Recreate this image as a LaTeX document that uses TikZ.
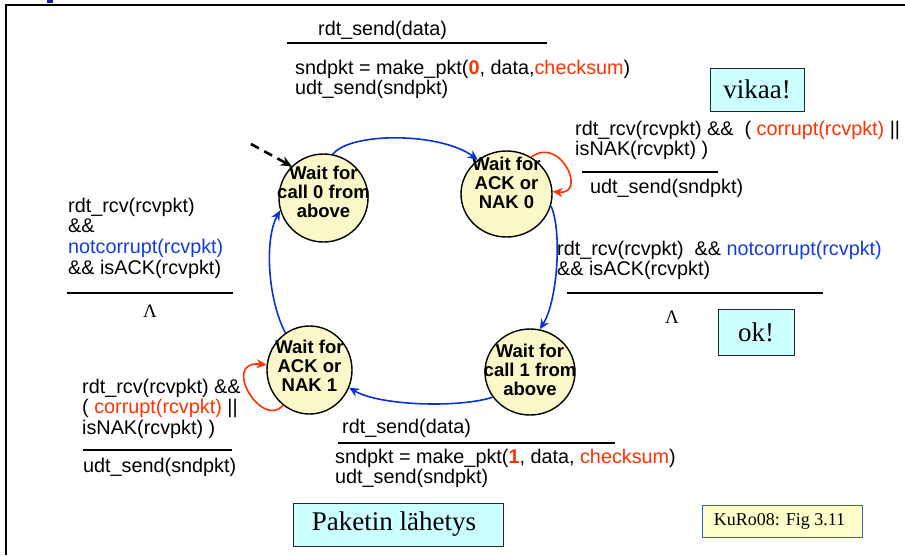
\documentclass[tikz,border=0pt]{standalone}
\usepackage{fontspec}
\setmainfont{Liberation Sans}
\newfontfamily\tms{Liberation Serif}
\usetikzlibrary{arrows.meta,shapes.geometric}

\definecolor{pred}{RGB}{255,51,0}
\definecolor{pblue}{RGB}{10,50,210}
\definecolor{tblue}{RGB}{20,60,220}
\definecolor{stfill}{RGB}{250,247,200}
\definecolor{cyanbox}{RGB}{204,255,255}
\definecolor{ylwbox}{RGB}{255,255,204}
\definecolor{navy}{RGB}{30,30,140}

\newcommand\lns[1]{\begin{tabular}[t]{@{}l@{}}#1\end{tabular}}
\newcommand\clns[1]{\begin{tabular}[t]{@{}c@{}}#1\end{tabular}}

\tikzset{
  lbl/.style={inner sep=0pt, anchor=base west, font=\fontsize{19.8}{20.7}\selectfont},
  rulebar/.style={line width=2.8pt},
  lam/.style={inner sep=0pt, anchor=base, font=\tms\fontsize{19}{20}\selectfont},
  state/.style={ellipse, draw, line width=1.4pt, fill=stfill, inner sep=0pt},
  stxt/.style={inner sep=0pt, anchor=base, font=\bfseries\fontsize{18.5}{19}\selectfont},
  trans/.style={draw=pblue, line width=1.6pt, -{Stealth[length=10pt,width=9pt]}, fill=none},
  selfloop/.style={draw=pred, line width=1.6pt, -{Stealth[length=10pt,width=9pt]}, fill=none},
  initarr/.style={line width=2.6pt, dash pattern=on 9pt off 6pt, -{Stealth[length=11pt,width=10pt]}},
  notebox/.style={draw=black!85, line width=1pt, fill=cyanbox, inner sep=0pt, font=\tms\fontsize{27}{30}\selectfont},
  refbox/.style={draw=pblue!80, line width=1pt, fill=ylwbox, inner sep=0pt, font=\tms\fontsize{18}{20}\selectfont}
}

\begin{document}
\begin{tikzpicture}[x=1pt,y=-1pt]
\useasboundingbox (0,0) rectangle (905,555);
\fill[white] (0,0) rectangle (905,555);
% frame
\fill[navy] (47,0) rectangle (53,3);
\draw[line width=1.3pt] (905,5) -- (6,5) -- (6,555);

% states
\node[state, minimum width=89pt, minimum height=88pt] (s0) at (323.5,198) {};
\node[state, minimum width=91pt, minimum height=86pt] (s1) at (506.5,194) {};
\node[state, minimum width=85pt, minimum height=88pt] (s2) at (309.5,370) {};
\node[state, minimum width=90pt, minimum height=86pt] (s3) at (530,372) {};
\node[stxt] (s0t) at (323.5,179) {\clns{Wait for\\call 0 from\\above}};
\node[stxt] (s1t) at (506.5,170) {\clns{Wait for\\ACK or\\NAK 0}};
\node[stxt] (s2t) at (309.5,353) {\clns{Wait for\\ACK or\\NAK 1}};
\node[stxt] (s3t) at (530,357) {\clns{Wait for\\call 1 from\\above}};

% connectors
\coordinate (init) at (251,144);
\draw[initarr] (init) -- (s0.135);
\draw[trans] (s0.78) .. controls (350,132) and (440,132) .. (s1.130);
\draw[selfloop] (s1.56) .. controls (560,135) and (588,195) .. (s1.3);
\draw[trans] (s1.-15) .. controls (562,230) and (558,300) .. (s3.77);
\draw[trans] (s3.214) .. controls (460,408) and (380,406) .. (s2.-24);
\draw[selfloop] (s2.233) .. controls (262,430) and (220,360) .. (s2.173);
\draw[trans] (s2.123) .. controls (268,300) and (264,240) .. (s0.196);

% top label
\node[lbl] (t1) at (318,35) {rdt\_send(data)};
\draw[rulebar] (287,43) -- (547,43);
\node[lbl] (t2) at (295,74) {\lns{sndpkt = make\_pkt({\color{pred}\bfseries 0}, data,{\color{pred}checksum})\\udt\_send(sndpkt)}};

% top-right label
\node[lbl] (tr1) at (575,135) {\lns{rdt\_rcv(rcvpkt) \&\&\ \ ( {\color{pred}corrupt(rcvpkt)} ||\\isNAK(rcvpkt) )}};
\draw[rulebar] (582,172) -- (718,172);
\node[lbl] (tr2) at (590,193) {udt\_send(sndpkt)};

% left label
\node[lbl] (l1) at (68,212) {\lns{rdt\_rcv(rcvpkt)\\\&\&\\{\color{tblue}notcorrupt(rcvpkt)}\\\&\& isACK(rcvpkt)}};
\draw[rulebar] (67,293) -- (233,293);
\node[lam] (l2) at (150,317) {Λ};

% right label
\node[lbl] (r1) at (557,255) {\lns{rdt\_rcv(rcvpkt)\ \ \&\& {\color{tblue}notcorrupt(rcvpkt)}\\\&\& isACK(rcvpkt)}};
\draw[rulebar] (567,293) -- (823,293);
\node[lam] (r2) at (672,323) {Λ};

% bottom-left label
\node[lbl] (bl1) at (82,393) {\lns{rdt\_rcv(rcvpkt) \&\&\\( {\color{pred}corrupt(rcvpkt)} ||\\isNAK(rcvpkt) )}};
\draw[rulebar] (83,450) -- (232,450);
\node[lbl] (bl2) at (83,472) {udt\_send(sndpkt)};

% bottom-middle label
\node[lbl] (b1) at (342,433) {rdt\_send(data)};
\draw[rulebar] (338,443) -- (615,443);
\node[lbl] (b2) at (335,463) {\lns{sndpkt = make\_pkt({\color{pred}\bfseries 1}, data, {\color{pred}checksum})\\udt\_send(sndpkt)}};

% boxes
\node[notebox, minimum width=94pt, minimum height=43pt] (vik) at (757,89.5) {vikaa!};
\node[notebox, minimum width=76pt, minimum height=46pt] (ok) at (756,332) {ok!};
\node[notebox, minimum width=210pt, minimum height=43pt] (pak) at (398,524.5) {\hspace*{-8pt}Paketin lähetys};
\node[refbox, minimum width=160pt, minimum height=32pt] (kuro) at (782,521) {\hspace*{-5pt}KuRo08: Fig 3.11};
\end{tikzpicture}
\end{document}
